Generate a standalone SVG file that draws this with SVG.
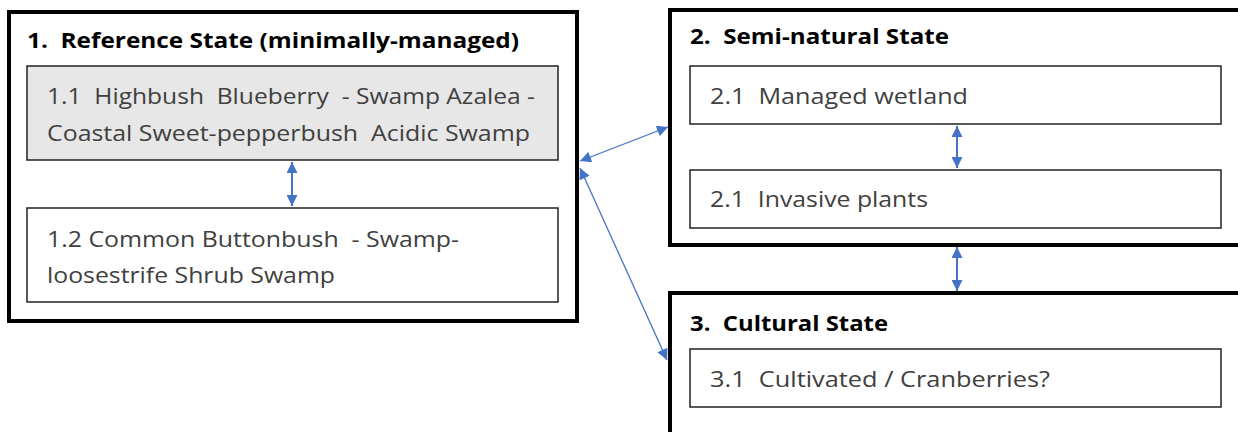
<svg xmlns="http://www.w3.org/2000/svg" width="1238" height="432" viewBox="0 0 1238 432">
<defs>
<marker id="ah" viewBox="0 0 10 10" refX="10" refY="5" markerWidth="12" markerHeight="11" orient="auto-start-reverse" markerUnits="userSpaceOnUse">
<path d="M0,0 L10,5 L0,10 z" fill="#4472C4"/>
</marker>
<style>
.outer{fill:#fff;stroke:#000;stroke-width:4}
.inner{fill:#fff;stroke:#222;stroke-width:1.5}
.gray{fill:#e7e7e7}
.hd{font-family:"Open Sans","Liberation Sans",sans-serif;font-weight:bold;font-size:21px;fill:#000;white-space:pre}
.tx{font-family:"Open Sans","Liberation Sans",sans-serif;font-size:22px;fill:#404040;white-space:pre}
.con{stroke:#4472C4;fill:none;marker-start:url(#ah);marker-end:url(#ah)}
</style>
</defs>
<rect width="1238" height="432" fill="#fff"/>
<g id="state1">
<rect class="outer" x="9" y="12" width="568" height="309"/>
<text class="hd" x="27" y="48" textLength="492" lengthAdjust="spacingAndGlyphs">1.  Reference State (minimally-managed)</text>
</g>
<g id="node1-1">
<rect class="inner gray" x="27" y="66" width="531" height="94"/>
<text class="tx" x="47" y="104" textLength="488" lengthAdjust="spacingAndGlyphs">1.1  Highbush  Blueberry  - Swamp Azalea -</text>
<text class="tx" x="47" y="141" textLength="483" lengthAdjust="spacingAndGlyphs">Coastal Sweet-pepperbush  Acidic Swamp</text>
</g>
<g id="node1-2">
<rect class="inner" x="27" y="208" width="531" height="94"/>
<text class="tx" x="47" y="247" textLength="412" lengthAdjust="spacingAndGlyphs">1.2 Common Buttonbush  - Swamp-</text>
<text class="tx" x="47" y="283" textLength="288" lengthAdjust="spacingAndGlyphs">loosestrife Shrub Swamp</text>
</g>
<g id="state2">
<rect class="outer" x="670" y="10" width="580" height="235"/>
<text class="hd" x="690" y="44" textLength="259" lengthAdjust="spacingAndGlyphs">2.  Semi-natural State</text>
</g>
<g id="node2-1">
<rect class="inner" x="690" y="66" width="531" height="58"/>
<text class="tx" x="710" y="104" textLength="258" lengthAdjust="spacingAndGlyphs">2.1  Managed wetland</text>
</g>
<g id="node2-2">
<rect class="inner" x="690" y="170" width="531" height="58"/>
<text class="tx" x="710" y="207" textLength="218" lengthAdjust="spacingAndGlyphs">2.1  Invasive plants</text>
</g>
<g id="state3">
<rect class="outer" x="670" y="293" width="580" height="160"/>
<text class="hd" x="690" y="331" textLength="198" lengthAdjust="spacingAndGlyphs">3.  Cultural State</text>
</g>
<g id="node3-1">
<rect class="inner" x="690" y="349" width="531" height="58"/>
<text class="tx" x="710" y="387" textLength="340" lengthAdjust="spacingAndGlyphs">3.1  Cultivated / Cranberries?</text>
</g>
<g id="connectors">
<line class="con" stroke-width="2" x1="292" y1="162" x2="292" y2="206"/>
<line class="con" stroke-width="2" x1="957" y1="126" x2="957" y2="168"/>
<line class="con" stroke-width="2" x1="957" y1="247" x2="957" y2="291"/>
<line class="con" stroke-width="1.3" x1="580" y1="161" x2="668" y2="127"/>
<line class="con" stroke-width="1.3" x1="580" y1="168" x2="667" y2="360"/>
</g>
</svg>
